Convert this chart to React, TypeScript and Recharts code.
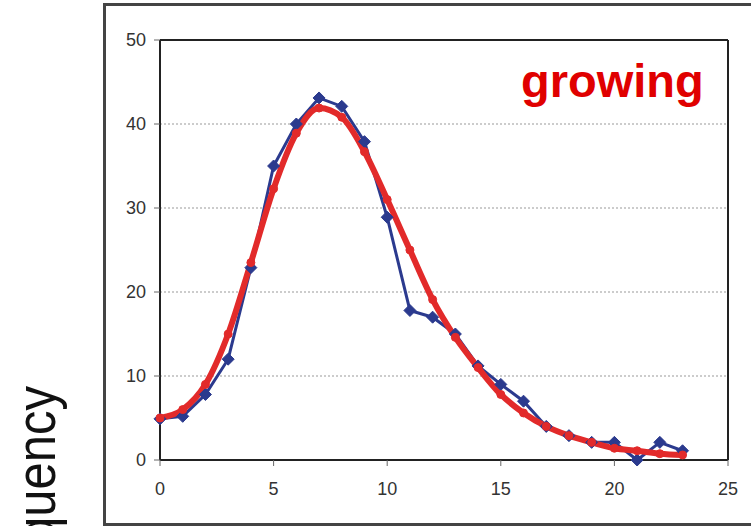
import React from "react";
import {
  ComposedChart,
  Line,
  XAxis,
  YAxis,
  CartesianGrid,
  ReferenceLine,
} from "recharts";

const sizes = [0, 1, 2, 3, 4, 5, 6, 7, 8, 9, 10, 11, 12, 13, 14, 15, 16, 17, 18, 19, 20, 21, 22, 23];
const observed = [4.9, 5.2, 7.8, 12, 22.9, 35, 40, 43.1, 42.1, 37.9, 28.9, 17.8, 17, 15, 11.2, 9, 7, 4, 2.9, 2.1, 2.1, 0, 2.1, 1.1];
const fitted = [5, 6, 9, 15, 23.5, 32.3, 38.9, 41.9, 40.8, 36.7, 31, 25, 19.1, 14.6, 11, 7.8, 5.6, 4, 2.9, 2.1, 1.4, 1.1, 0.75, 0.6];
const xTicks = [0, 5, 10, 15, 20, 25];
const yTicks = [0, 10, 20, 30, 40, 50];
const titleText = "growing";
const yLabel = "Frequency";

const data = sizes.map((s, i) => ({ x: s, observed: observed[i], fitted: fitted[i] }));

const BLUE = "#2b3a8e";
const RED = "#e22a2a";
const FONT = "'Liberation Sans', Arial, sans-serif";

const Diamond = (props: any) => {
  const { cx, cy, index } = props;
  if (cx == null || cy == null) return <g key={`d-${index}`} />;
  const r = 6;
  return (
    <polygon
      key={`d-${index}`}
      points={`${cx},${cy - r} ${cx + r},${cy} ${cx},${cy + r} ${cx - r},${cy}`}
      fill={BLUE}
      stroke={BLUE}
      strokeWidth={1}
    />
  );
};

export default function App() {
  return (
    <div style={{ position: "absolute", left: 0, top: 0, width: 751, height: 526, background: "#fff", overflow: "hidden" }}>
      <div
        style={{
          position: "absolute",
          left: 103,
          top: 3,
          width: 700,
          height: 517,
          border: "3px solid #444",
        }}
      />
      <div style={{ position: "absolute", left: 0, top: 0 }}>
        <ComposedChart
          width={751}
          height={526}
          data={data}
          margin={{ top: 40, right: 23, bottom: 26, left: 100 }}
          style={{ fontFamily: FONT }}
        >
          <CartesianGrid vertical={false} stroke="#999" strokeDasharray="2 2" strokeWidth={1} />
          <XAxis
            dataKey="x"
            type="number"
            domain={[0, 25]}
            ticks={xTicks}
            height={40}
            tickSize={6}
            tickMargin={16}
            stroke="#222"
            strokeWidth={2}
            tick={{ fill: "#333", fontSize: 18, fontFamily: FONT }}
            tickLine={{ stroke: "#666", strokeWidth: 1 }}
          />
          <YAxis
            type="number"
            domain={[0, 50]}
            ticks={yTicks}
            width={60}
            tickSize={6}
            tickMargin={8}
            stroke="#222"
            strokeWidth={2}
            tick={{ fill: "#333", fontSize: 18, fontFamily: FONT }}
            tickLine={{ stroke: "#666", strokeWidth: 1 }}
          />
          <ReferenceLine y={50} stroke="#222" strokeWidth={2} />
          <ReferenceLine x={25} stroke="#222" strokeWidth={2} />
          <Line
            type="linear"
            dataKey="observed"
            stroke={BLUE}
            strokeWidth={3}
            dot={Diamond}
            activeDot={false}
            isAnimationActive={false}
          />
          <Line
            type="monotone"
            dataKey="fitted"
            stroke={RED}
            strokeWidth={6}
            dot={{ r: 4, fill: RED, stroke: RED, strokeWidth: 1 }}
            activeDot={false}
            isAnimationActive={false}
          />
        </ComposedChart>
      </div>
      <svg width={751} height={526} style={{ position: "absolute", left: 0, top: 0, pointerEvents: "none" }}>
        <text x={521} y={97} fill="#e00000" fontSize={47} fontWeight="bold" fontFamily={FONT}>
          {titleText}
        </text>
        <text
          x={0}
          y={0}
          fill="#111"
          fontSize={56}
          fontFamily={FONT}
          textAnchor="end"
          transform="translate(55, 386) rotate(-90) scale(0.875, 1)"
        >
          {yLabel}
        </text>
      </svg>
    </div>
  );
}
